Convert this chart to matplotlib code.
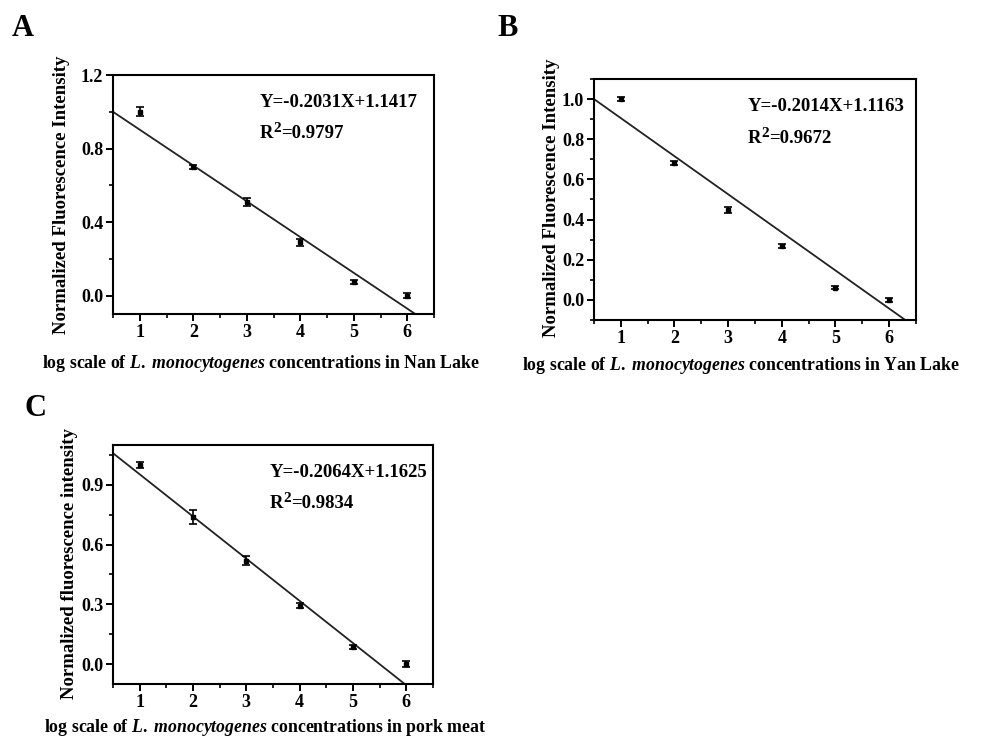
import matplotlib
matplotlib.use("Agg")
import matplotlib.pyplot as plt
from matplotlib.ticker import MultipleLocator, FormatStrFormatter

plt.rcParams['font.family'] = ['Liberation Serif', 'DejaVu Serif']
plt.rcParams['font.weight'] = 'bold'
plt.rcParams['mathtext.fontset'] = 'custom'
plt.rcParams['mathtext.rm'] = 'Liberation Serif:bold'
plt.rcParams['mathtext.bf'] = 'Liberation Serif:bold'
plt.rcParams['mathtext.it'] = 'Liberation Serif:italic:bold'

# ---- data ----
x_vals = [1, 2, 3, 4, 5, 6]

a_y = [1.00, 0.70, 0.51, 0.29, 0.075, 0.0]
a_err = [0.025, 0.012, 0.02, 0.02, 0.01, 0.012]
a_fit_x = [0.5, 6.15]
a_fit_y = [1.0, -0.1]

b_y = [1.00, 0.682, 0.45, 0.268, 0.06, 0.0]
b_err = [0.01, 0.012, 0.015, 0.012, 0.008, 0.008]
b_fit_x = [0.5, 6.30]
b_fit_y = [1.0, -0.1]

c_y = [1.00, 0.74, 0.52, 0.293, 0.084, 0.0]
c_err = [0.015, 0.035, 0.025, 0.012, 0.01, 0.015]
c_fit_x = [0.5, 5.97]
c_fit_y = [1.059, -0.1]

eqs = ["Y=-0.2031X+1.1417", "Y=-0.2014X+1.1163", "Y=-0.2064X+1.1625"]
r2s = ["0.9797", "0.9672", "0.9834"]
ylabels = ["Normalized Fluorescence Intensity", "Normalized Fluorescence Intensity",
           "Normalized fluorescence intensity"]
places = ["Nan Lake", "Yan Lake", "pork meat"]
letters = ["A", "B", "C"]

fig = plt.figure(figsize=(9.86, 7.38), dpi=100)

panels = [
    dict(rect=[0.1146, 0.5745, 0.3256, 0.3238], y=a_y, err=a_err, fx=a_fit_x, fy=a_fit_y,
         ylim=(-0.1, 1.2), major=0.4, minor=0.2, tx=0.458, ty=(0.887, 0.736),
         ylab_x=62, ylab_y=195, xlab_x=261, xlab_y=363, let=(12, 29)),
    dict(rect=[0.6024, 0.5664, 0.3266, 0.3266], y=b_y, err=b_err, fx=b_fit_x, fy=b_fit_y,
         ylim=(-0.1, 1.1), major=0.2, minor=0.1, tx=0.478, ty=(0.884, 0.734),
         ylab_x=552, ylab_y=198, xlab_x=741, xlab_y=366, let=(497, 29)),
    dict(rect=[0.1146, 0.0732, 0.3245, 0.3238], y=c_y, err=c_err, fx=c_fit_x, fy=c_fit_y,
         ylim=(-0.1, 1.1), major=0.3, minor=0.15, tx=0.49, ty=(0.887, 0.737),
         ylab_x=70, ylab_y=564, xlab_x=265, xlab_y=727, let=(24, 408)),
]

W, H = 986.0, 738.0
for i, p in enumerate(panels):
    ax = fig.add_axes(p['rect'])
    ax.plot(p['fx'], p['fy'], color='#222222', lw=1.3, zorder=2)
    ax.errorbar(x_vals, p['y'], yerr=p['err'], fmt='s', color='black', ms=3.5,
                capsize=2.8, elinewidth=1.2, capthick=1.2, zorder=3)
    ax.set_xlim(0.5, 6.5)
    ax.set_ylim(*p['ylim'])
    ax.xaxis.set_minor_locator(MultipleLocator(0.5))
    ax.yaxis.set_major_locator(MultipleLocator(p['major']))
    ax.yaxis.set_minor_locator(MultipleLocator(p['minor']))
    ax.set_xticks(x_vals)
    ax.yaxis.set_major_formatter(FormatStrFormatter('%.1f'))
    ax.tick_params(which='major', direction='out', length=5, width=1.4, labelsize=13, pad=2)
    ax.tick_params(which='minor', direction='out', length=3, width=1.2)
    for s in ax.spines.values():
        s.set_linewidth(1.5)
    for lab in ax.get_xticklabels() + ax.get_yticklabels():
        lab.set_fontweight('bold')
    ax.text(p['tx'], p['ty'][0], eqs[i], transform=ax.transAxes, fontsize=13.5,
            fontweight='bold', va='center', ha='left')
    base = (p['tx'], p['ty'][1])
    ax.annotate("R", xy=base, xycoords='axes fraction', fontsize=13.5,
                fontweight='bold', va='baseline', ha='left')
    ax.annotate("2", xy=base, xycoords='axes fraction', xytext=(9.8, 4.2),
                textcoords='offset points', fontsize=11, fontweight='bold',
                va='baseline', ha='left')
    ax.annotate("=" + r2s[i], xy=base, xycoords='axes fraction', xytext=(15.3, 0),
                textcoords='offset points', fontsize=13.5, fontweight='bold',
                va='baseline', ha='left')
    fig.text(p['ylab_x'] / W, 1 - p['ylab_y'] / H, ylabels[i], rotation=90,
             fontsize=13.5, fontweight='bold', ha='center', va='center')
    fig.text(p['xlab_x'] / W, 1 - p['xlab_y'] / H,
             r"log scale of $\mathit{L.}$ $\mathit{monocytogenes}$ concentrations in " + places[i],
             fontsize=12.8, fontweight='bold', ha='center', va='center')
    fig.text(p['let'][0] / W, 1 - p['let'][1] / H, letters[i], fontsize=22,
             fontweight='bold', ha='left', va='center')

fig.savefig("out.png", dpi=100)
